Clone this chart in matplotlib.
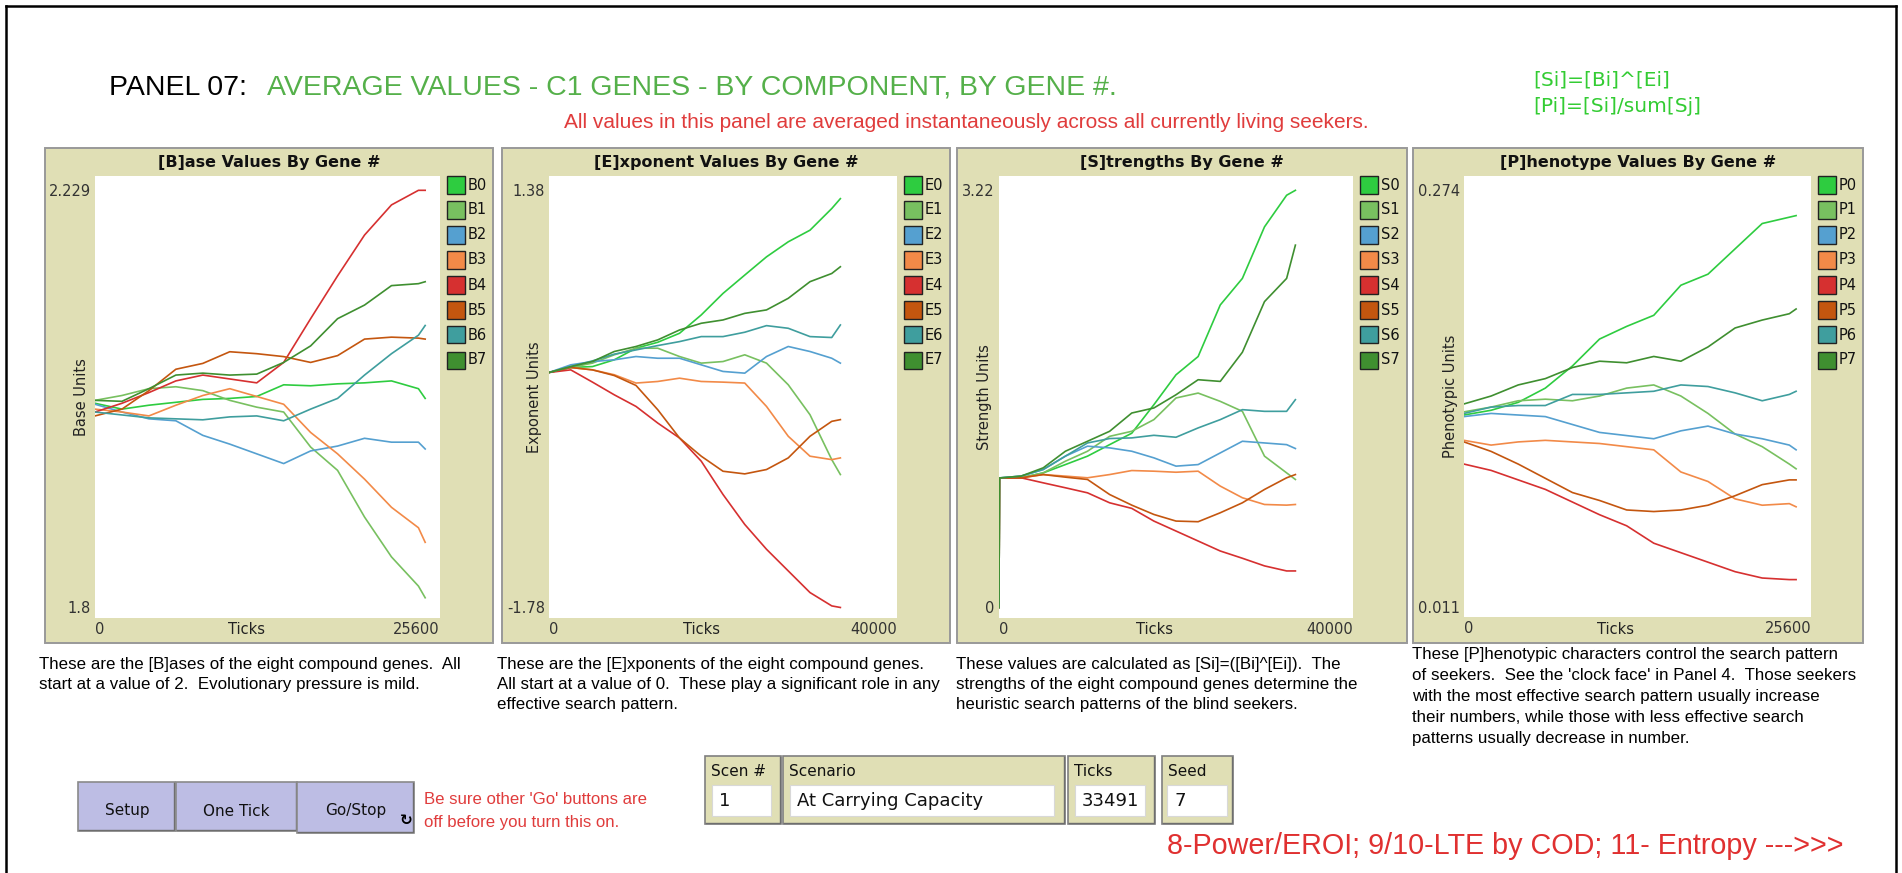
import matplotlib
matplotlib.use("Agg")
import matplotlib.pyplot as plt
from matplotlib.patches import Rectangle
from matplotlib.lines import Line2D

# ---- data ----
gene_colors = ["#2ecc40", "#78c060", "#55a0d0", "#f28a48", "#d63030", "#c4560f", "#3f9e9e", "#3f8f30"]

base_ticks = [0, 2000, 4000, 6000, 8000, 10000, 12000, 14000, 16000, 18000, 20000, 22000, 24000, 24500]
base_vals = {
    "B0": [2.010, 2.004, 2.008, 2.011, 2.014, 2.015, 2.017, 2.029, 2.028, 2.030, 2.031, 2.033, 2.025, 2.015],
    "B1": [2.013, 2.018, 2.025, 2.027, 2.023, 2.013, 2.006, 2.001, 1.965, 1.941, 1.893, 1.852, 1.822, 1.810],
    "B2": [2.009, 2.001, 1.994, 1.992, 1.977, 1.968, 1.958, 1.948, 1.961, 1.966, 1.974, 1.970, 1.970, 1.963],
    "B3": [2.004, 2.001, 1.997, 2.008, 2.018, 2.025, 2.017, 2.009, 1.980, 1.958, 1.932, 1.903, 1.882, 1.867],
    "B4": [2.001, 2.010, 2.021, 2.033, 2.039, 2.035, 2.031, 2.052, 2.097, 2.141, 2.183, 2.214, 2.229, 2.229],
    "B5": [1.997, 2.004, 2.023, 2.045, 2.051, 2.063, 2.061, 2.058, 2.052, 2.059, 2.076, 2.078, 2.077, 2.076],
    "B6": [2.001, 1.998, 1.995, 1.994, 1.993, 1.996, 1.997, 1.992, 2.004, 2.015, 2.039, 2.061, 2.080, 2.090],
    "B7": [2.013, 2.012, 2.025, 2.039, 2.041, 2.039, 2.040, 2.052, 2.069, 2.097, 2.111, 2.131, 2.133, 2.135],
}

exp_ticks = [0, 2500, 5000, 7500, 10000, 12500, 15000, 17500, 20000, 22500, 25000, 27500, 30000, 32500, 33491]
exp_vals = {
    "E0": [0.0, 0.038, 0.045, 0.096, 0.184, 0.229, 0.297, 0.436, 0.599, 0.738, 0.876, 0.990, 1.078, 1.242, 1.317],
    "E1": [0.0, 0.038, 0.071, 0.134, 0.184, 0.184, 0.121, 0.071, 0.083, 0.134, 0.071, -0.093, -0.320, -0.660, -0.773],
    "E2": [0.0, 0.058, 0.083, 0.096, 0.121, 0.108, 0.108, 0.058, 0.008, -0.005, 0.121, 0.197, 0.159, 0.108, 0.071],
    "E3": [0.0, 0.038, 0.020, -0.017, -0.080, -0.068, -0.043, -0.068, -0.073, -0.080, -0.257, -0.483, -0.634, -0.660, -0.647],
    "E4": [0.0, 0.020, -0.073, -0.169, -0.257, -0.383, -0.496, -0.672, -0.924, -1.151, -1.339, -1.503, -1.667, -1.768, -1.780],
    "E5": [0.0, 0.038, 0.020, -0.023, -0.098, -0.282, -0.496, -0.634, -0.748, -0.768, -0.735, -0.647, -0.483, -0.370, -0.357],
    "E6": [0.0, 0.045, 0.088, 0.139, 0.171, 0.204, 0.234, 0.272, 0.272, 0.305, 0.355, 0.335, 0.272, 0.265, 0.360],
    "E7": [0.0, 0.045, 0.083, 0.159, 0.197, 0.247, 0.322, 0.373, 0.398, 0.448, 0.474, 0.562, 0.688, 0.750, 0.801],
}

str_ticks = [0, 50, 2500, 5000, 7500, 10000, 12500, 15000, 17500, 20000, 22500, 25000, 27500, 30000, 32500, 33491]
str_vals = {
    "S0": [0.0, 1.0, 1.001, 1.039, 1.103, 1.168, 1.257, 1.345, 1.565, 1.796, 1.937, 2.335, 2.540, 2.938, 3.182, 3.220],
    "S1": [0.0, 1.0, 1.001, 1.039, 1.129, 1.206, 1.321, 1.360, 1.450, 1.617, 1.655, 1.591, 1.514, 1.168, 1.039, 0.988],
    "S2": [0.0, 1.0, 1.014, 1.065, 1.168, 1.245, 1.232, 1.206, 1.155, 1.091, 1.103, 1.193, 1.283, 1.270, 1.257, 1.227],
    "S3": [0.0, 1.0, 1.001, 1.026, 1.014, 1.001, 1.026, 1.057, 1.052, 1.044, 1.052, 0.937, 0.847, 0.795, 0.790, 0.795],
    "S4": [0.0, 1.0, 1.001, 0.962, 0.924, 0.885, 0.808, 0.765, 0.667, 0.590, 0.513, 0.436, 0.380, 0.321, 0.282, 0.282],
    "S5": [0.0, 1.0, 1.001, 1.026, 1.006, 0.988, 0.872, 0.790, 0.718, 0.667, 0.662, 0.731, 0.808, 0.911, 1.001, 1.026],
    "S6": [0.0, 1.0, 1.014, 1.065, 1.168, 1.270, 1.304, 1.309, 1.329, 1.314, 1.386, 1.450, 1.527, 1.514, 1.514, 1.604],
    "S7": [0.0, 1.0, 1.014, 1.078, 1.206, 1.283, 1.360, 1.501, 1.540, 1.642, 1.758, 1.745, 1.970, 2.361, 2.540, 2.797],
}

phen_ticks = [0, 2000, 4000, 6000, 8000, 10000, 12000, 14000, 16000, 18000, 20000, 22000, 24000, 24500]
phen_vals = {
    "P0": [0.132, 0.135, 0.140, 0.149, 0.163, 0.180, 0.188, 0.195, 0.214, 0.221, 0.237, 0.253, 0.257, 0.258],
    "P1": [0.134, 0.137, 0.141, 0.142, 0.141, 0.144, 0.149, 0.151, 0.144, 0.133, 0.120, 0.112, 0.101, 0.098],
    "P2": [0.131, 0.133, 0.132, 0.131, 0.126, 0.121, 0.119, 0.117, 0.122, 0.125, 0.120, 0.117, 0.113, 0.110],
    "P3": [0.116, 0.113, 0.115, 0.116, 0.115, 0.114, 0.112, 0.110, 0.096, 0.090, 0.079, 0.075, 0.076, 0.074],
    "P4": [0.101, 0.097, 0.091, 0.085, 0.077, 0.069, 0.062, 0.051, 0.045, 0.039, 0.033, 0.029, 0.028, 0.028],
    "P5": [0.115, 0.109, 0.101, 0.092, 0.083, 0.078, 0.072, 0.071, 0.072, 0.075, 0.081, 0.088, 0.091, 0.091],
    "P6": [0.133, 0.137, 0.138, 0.138, 0.145, 0.145, 0.146, 0.147, 0.151, 0.150, 0.146, 0.141, 0.145, 0.147],
    "P7": [0.139, 0.144, 0.151, 0.155, 0.162, 0.166, 0.165, 0.169, 0.166, 0.175, 0.187, 0.192, 0.196, 0.199],
}

desc_b = ["These are the [B]ases of the eight compound genes.  All",
          "start at a value of 2.  Evolutionary pressure is mild."]
desc_e = ["These are the [E]xponents of the eight compound genes.",
          "All start at a value of 0.  These play a significant role in any",
          "effective search pattern."]
desc_s = ["These values are calculated as [Si]=([Bi]^[Ei]).  The",
          "strengths of the eight compound genes determine the",
          "heuristic search patterns of the blind seekers."]
desc_p = ["These [P]henotypic characters control the search pattern",
          "of seekers.  See the 'clock face' in Panel 4.  Those seekers",
          "with the most effective search pattern usually increase",
          "their numbers, while those with less effective search",
          "patterns usually decrease in number."]

monitor_labels = ["Scen #", "Scenario", "Ticks", "Seed"]
monitor_values = ["1", "At Carrying Capacity", "33491", "7"]
button_labels = ["Setup", "One Tick", "Go/Stop"]

# ---- layout (pixels, origin top-left) ----
W, H = 1902, 873
BEIGE = "#e0dfb5"
TEXT_FONT = "Liberation Sans"
plt.rcParams["font.family"] = "DejaVu Sans"

fig = plt.figure(figsize=(W / 100, H / 100), dpi=100)
fig.patch.set_facecolor("white")


def fx(x):
    return x / W


def fy(y):
    return 1 - y / H


def box(x0, y0, x1, y1, **kw):
    kw.setdefault("zorder", -1)
    fig.add_artist(Rectangle((fx(x0), fy(y1)), (x1 - x0) / W, (y1 - y0) / H,
                             transform=fig.transFigure, **kw))


def put(x, y, s, **kw):
    kw.setdefault("va", "center")
    fig.text(fx(x), fy(y), s, **kw)


def raised(x0, y0, x1, y1, face, edge):
    # flat box with a darker lower/right edge, like the NetLogo widgets
    box(x0, y0, x1, y1, facecolor=face, edgecolor=edge, lw=1.2)
    fig.add_artist(Line2D([fx(x0 + 1), fx(x1 - 1), fx(x1 - 1)], [fy(y1 - 1), fy(y1 - 1), fy(y0 + 1)],
                          transform=fig.transFigure, color="#6e6e6e", lw=1.0, zorder=-1))


# outer frame (open at the bottom)
for xs, ys in [([6, 6], [873, 6]), ([6, 1896], [6, 6]), ([1896, 1896], [6, 873])]:
    fig.add_artist(Line2D([fx(v) for v in xs], [fy(v) for v in ys],
                          transform=fig.transFigure, color="black", lw=1.8))

# header texts
put(109, 88, "PANEL 07:", fontsize=20.5, color="black", family=TEXT_FONT)
put(267, 88, "AVERAGE VALUES - C1 GENES - BY COMPONENT, BY GENE #.", fontsize=20.5,
    color="#55b04a", family=TEXT_FONT)
put(564, 123, "All values in this panel are averaged instantaneously across all currently living seekers.",
    fontsize=15, color="#e03c3c", family=TEXT_FONT)
put(1533, 80, "[Si]=[Bi]^[Ei]", fontsize=14.5, color="#33cc33")
put(1533, 106, "[Pi]=[Si]/sum[Sj]", fontsize=14.5, color="#33cc33")

panels = [
    dict(title="[B]ase Values By Gene #", ylabel="Base Units", outer=(45, 148, 493, 643),
         plot=(95, 176, 440, 618), x=base_ticks, vals=base_vals, xmax=25600,
         lo=1.8, hi=2.229, ytl=("1.8", "2.229")),
    dict(title="[E]xponent Values By Gene #", ylabel="Exponent Units", outer=(502, 148, 950, 643),
         plot=(549, 176, 897, 618), x=exp_ticks, vals=exp_vals, xmax=40000,
         lo=-1.78, hi=1.38, ytl=("-1.78", "1.38")),
    dict(title="[S]trengths By Gene #", ylabel="Strength Units", outer=(957, 148, 1407, 643),
         plot=(999, 176, 1353, 618), x=str_ticks, vals=str_vals, xmax=40000,
         lo=0.0, hi=3.22, ytl=("0", "3.22")),
    dict(title="[P]henotype Values By Gene #", ylabel="Phenotypic Units", outer=(1413, 148, 1863, 643),
         plot=(1464, 176, 1811, 617), x=phen_ticks, vals=phen_vals, xmax=25600,
         lo=0.011, hi=0.274, ytl=("0.011", "0.274")),
]

for p in panels:
    x0, y0, x1, y1 = p["outer"]
    box(x0, y0, x1, y1, facecolor=BEIGE, edgecolor="#999999", lw=1.4)
    put((x0 + x1) / 2, 163, p["title"], ha="center", fontsize=11.5, fontweight="bold", color="#111111")

    px0, py0, px1, py1 = p["plot"]
    ax = fig.add_axes([fx(px0), fy(py1), (px1 - px0) / W, (py1 - py0) / H])
    ax.set_facecolor("white")
    for (name, ys), c in zip(p["vals"].items(), gene_colors):
        ax.plot(p["x"], ys, color=c, lw=1.2)

    span = (p["hi"] - p["lo"]) / 0.9438
    ax.set_ylim(p["lo"] - 0.0238 * span, p["hi"] + 0.0324 * span)
    ax.set_xlim(0, p["xmax"])
    ax.set_yticks([p["lo"], p["hi"]], list(p["ytl"]))
    ax.set_xticks([0, p["xmax"]], ["0", str(p["xmax"])])
    ax.tick_params(length=0, labelsize=10.5, labelcolor="#333333", pad=3)
    xt = ax.xaxis.get_major_ticks()
    xt[0].label1.set_horizontalalignment("left")
    xt[-1].label1.set_horizontalalignment("right")
    for s in ax.spines.values():
        s.set_visible(False)
    ax.set_ylabel(p["ylabel"], fontsize=10.5, color="#222222", va="center")
    ax.yaxis.set_label_coords(-14 / (px1 - px0), 0.5)
    put(px0 + 0.438 * (px1 - px0), 630, "Ticks", ha="center", fontsize=10.5, color="#222222")

    # legend swatches
    for i, (name, c) in enumerate(zip(p["vals"].keys(), gene_colors)):
        cy = 185 + 25 * i
        box(px1 + 7, cy - 8.5, px1 + 25, cy + 8.5, facecolor=c, edgecolor="#222222", lw=1.0)
        put(px1 + 28, cy, name, fontsize=10.5, color="#111111")

# descriptions under the plots
for lines, x, y, step in [(desc_b, 39, 664, 20.5), (desc_e, 497, 664, 20.5),
                          (desc_s, 956, 664, 20.5), (desc_p, 1412, 655, 21)]:
    for i, line in enumerate(lines):
        put(x, y + i * step, line, fontsize=12.2, color="black", family=TEXT_FONT)

# buttons
for (bx0, bx1, by1), lab, lx in zip([(78, 175, 831), (176, 297, 831), (297, 414, 833)],
                                    button_labels, [127, 236, 356]):
    raised(bx0, 782, bx1, by1, "#bdbde4", "#8a8a8a")
    put(lx, 811, lab, ha="center", fontsize=11, color="#111111")
put(406, 820, "\u21bb", ha="center", fontsize=11, fontweight="bold", color="black")
put(424, 800, "Be sure other 'Go' buttons are", fontsize=12.1, color="#e03c3c", family=TEXT_FONT)
put(424, 822, "off before you turn this on.", fontsize=12.1, color="#e03c3c", family=TEXT_FONT)

# monitors
mon_boxes = [(705, 781), (783, 1065), (1068, 1155), (1162, 1233)]
mon_fields = [(712, 771), (790, 1054), (1075, 1145), (1167, 1227)]
for (mx0, mx1), (fx0, fx1), lab, val in zip(mon_boxes, mon_fields, monitor_labels, monitor_values):
    raised(mx0, 756, mx1, 824, BEIGE, "#7f7f7f")
    box(fx0, 785, fx1, 816, facecolor="white", edgecolor="#d8d8d8", lw=0.8)
    put(mx0 + 6, 772, lab, fontsize=11, color="#111111")
    put(fx0 + 7, 801, val, fontsize=13, color="#111111")

put(1167, 846, "8-Power/EROI; 9/10-LTE by COD; 11- Entropy --->>>", fontsize=20.7,
    color="#e03030", family=TEXT_FONT)

fig.savefig("out.png", dpi=100, facecolor="white")
